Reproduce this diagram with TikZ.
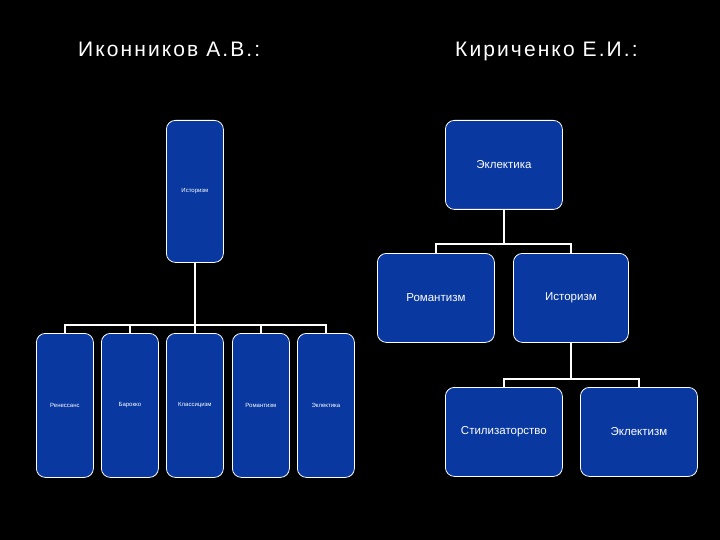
\documentclass[tikz,border=0pt]{standalone}
\usepackage{fontspec}
\setmainfont{Liberation Sans}
\newfontfamily\titlefont[LetterSpace=10]{Liberation Sans}
\definecolor{boxblue}{RGB}{8,56,160}
\begin{document}
\begin{tikzpicture}[x=1pt,y=-1pt,
  box/.style={draw=white, line width=0.8pt, fill=boxblue, rounded corners=9pt,
    text=white, inner sep=0pt, anchor=north west},
  tall/.style={box, minimum width=57pt, minimum height=144pt, font=\fontsize{6}{7}\selectfont},
  wide/.style={box, minimum width=117pt, minimum height=89pt, font=\fontsize{11.5}{13}\selectfont},
  conn/.style={draw=white, line width=1.8pt},
  title/.style={text=white, inner sep=0pt, anchor=base west, font=\titlefont\fontsize{21}{24}\selectfont}]
\fill[black] (0,0) rectangle (720,540);
\useasboundingbox (0,0) rectangle (720,540);
% titles
\node[title] (t1) at (78,57) {Иконников А.В.:};
\node[title] (t2) at (455,57) {Кириченко Е.И.:};
% left tree
\node[tall, minimum height=142pt] (hist) at (166,120) {Историзм};
\node[tall] (c1) at (36,333) {Ренессанс};
\node[tall] (c2) at (101,333) {Барокко};
\node[tall] (c3) at (166,333) {Классицизм};
\node[tall] (c4) at (232,333) {Романтизм};
\node[tall] (c5) at (297,333) {Эклектика};
\foreach \c in {c1,c2,c3,c4,c5}
  \draw[conn] (hist.south) -- ++(0,62) -| (\c.north);
% right tree
\node[wide] (ek) at (445,120) {Эклектика};
\node[wide] (rom) at (377,253) {Романтизм};
\node[wide, minimum width=115pt] (ist) at (513,253) {Историзм};
\node[wide] (sti) at (445,387) {Стилизаторство};
\node[wide] (ekl) at (580,387) {Эклектизм};
\draw[conn] (ek.south) -- ++(0,34) -| (rom.north);
\draw[conn] (ek.south) -- ++(0,34) -| (ist.north);
\draw[conn] (ist.south) -- ++(0,36) -| (sti.north);
\draw[conn] (ist.south) -- ++(0,36) -| (ekl.north);
\end{tikzpicture}
\end{document}
